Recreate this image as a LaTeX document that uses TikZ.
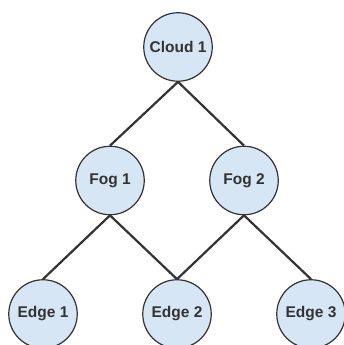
\documentclass[tikz,border=0pt]{standalone}
\usepackage{fontspec}
\setmainfont{Liberation Sans}
\usepackage{xcolor}
\usetikzlibrary{positioning}

\definecolor{nodeblue}{HTML}{D6E6F4}
\definecolor{darkline}{HTML}{333333}

\begin{document}
\begin{tikzpicture}[x=1pt,y=-1pt,
    tier/.style={circle, draw=darkline, line width=1.2pt, fill=nodeblue,
        minimum size=68.5pt, inner sep=0pt, text=darkline,
        font=\fontsize{15.5}{18}\selectfont\bfseries},
    link/.style={draw=darkline, line width=2.2pt}]
    \useasboundingbox (0,0) rectangle (344,345);

    \node[tier] (cloud) at (178,47) {Cloud 1};

    \node[tier] (fog1) at (110,180.5) {Fog 1};
    \node[tier] (fog2) at (244,180.5) {Fog 2};

    \node[tier] (edge1) at (43,314) {Edge 1};
    \node[tier] (edge2) at (177,314) {Edge 2};
    \node[tier] (edge3) at (311,314) {Edge 3};

    \draw[link] (cloud.south) -- (fog1.north);
    \draw[link] (cloud.south) -- (fog2.north);
    \draw[link] (fog1.south) -- (edge1.north);
    \draw[link] (fog1.south) -- (edge2.north);
    \draw[link] (fog2.south) -- (edge2.north);
    \draw[link] (fog2.south) -- (edge3.north);
\end{tikzpicture}
\end{document}
